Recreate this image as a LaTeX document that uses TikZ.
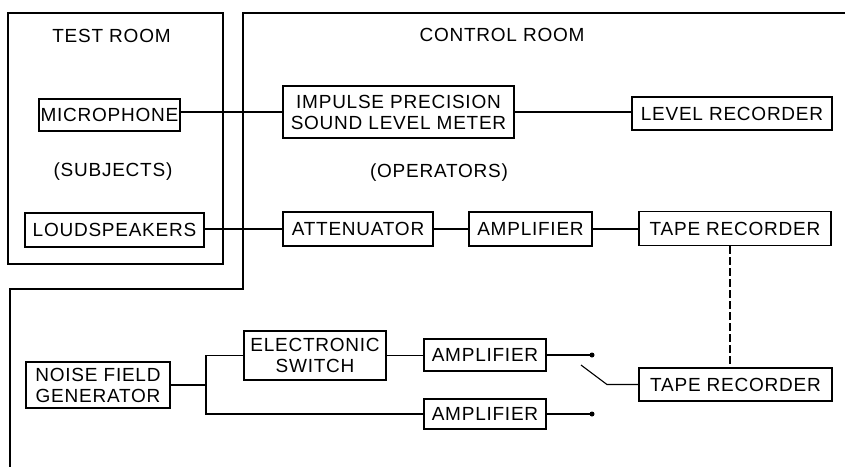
\documentclass[tikz,border=0pt]{standalone}
\usepackage{fontspec}
\setmainfont{Liberation Sans}[LetterSpace=4]
\begin{document}
\begin{tikzpicture}[x=1pt,y=-1pt,
  blk/.style={draw,line width=1.6pt,inner sep=0pt,align=center,
    font=\fontsize{19}{21}\selectfont},
  lbl/.style={inner sep=0pt,font=\fontsize{19}{21}\selectfont},
  wire/.style={line width=1.1pt},
  wall/.style={line width=1.3pt}]
\useasboundingbox (0,0) rectangle (845,467);
% rooms
\draw[wall] (8,13) rectangle (223,264);
\draw[wall] (845,13) -- (243,13) -- (243,289) -- (10,289) -- (10,467);
% labels
\node[lbl] (troom) at (111.5,36) {TEST ROOM};
\node[lbl] (croom) at (502,35) {CONTROL ROOM};
\node[lbl] (subj) at (113,172) {(SUBJECTS)};
\node[lbl] (oper) at (439,173) {(OPERATORS)};
% blocks
\node[blk,minimum width=141,minimum height=32] (mic) at (109.5,115) {MICROPHONE};
\node[blk,minimum width=179,minimum height=34] (loud) at (114.5,230) {LOUDSPEAKERS};
\node[blk,minimum width=231,minimum height=52] (imp) at (398.5,112) {IMPULSE PRECISION\\SOUND LEVEL METER};
\node[blk,minimum width=200,minimum height=33] (lvl) at (732,113.5) {LEVEL RECORDER};
\node[blk,minimum width=150,minimum height=34] (att) at (358,229) {ATTENUATOR};
\node[blk,minimum width=123,minimum height=34] (amp1) at (530.5,229) {AMPLIFIER};
\node[blk,minimum width=192,minimum height=34] (tape1) at (735,228.5) {TAPE RECORDER};
\node[blk,minimum width=144,minimum height=46] (noise) at (98,385) {NOISE FIELD\\GENERATOR};
\node[blk,minimum width=142,minimum height=49] (sw) at (315,355.5) {ELECTRONIC\\SWITCH};
\node[blk,minimum width=122,minimum height=32] (amp2) at (485,355) {AMPLIFIER};
\node[blk,minimum width=122,minimum height=30] (amp3) at (485,414) {AMPLIFIER};
\node[blk,minimum width=193,minimum height=33] (tape2) at (735.5,384.5) {TAPE RECORDER};
% helper coordinates
\coordinate (br) at (206,385);
\coordinate (c1) at (592,355);
\coordinate (c2) at (592,414);
\coordinate (b1) at (581,365);
\coordinate (b2) at (607,384.5);
% connectors
\draw[wire] (imp.west -| mic.east) -- (imp.west);
\draw[wire] (imp.east) -- (imp.east -| lvl.west);
\draw[wire] (loud.east |- att.west) -- (att.west);
\draw[wire] (att.east) -- (amp1.west);
\draw[wire] (amp1.east) -- (amp1.east -| tape1.west);
\draw[wire,dash pattern=on 8pt off 3pt] ([xshift=-5pt]tape1.south) -- ([xshift=-5pt]tape1.south |- tape2.north);
\draw[wire] (noise.east) -- (noise.east -| br);
\draw[wire] (sw.west) -- (sw.west -| br) -- (br |- amp3.west) -- (amp3.west);
\draw[wire] (sw.east) -- (sw.east -| amp2.west);
\draw[wire] (amp2.east) -- (amp2.east -| c1);
\draw[wire] (amp3.east) -- (amp3.east -| c2);
\fill (c1) circle (2.5);
\fill (c2) circle (2.5);
\draw[wire] (b1) -- (b2) -- (tape2.west);
\end{tikzpicture}
\end{document}
